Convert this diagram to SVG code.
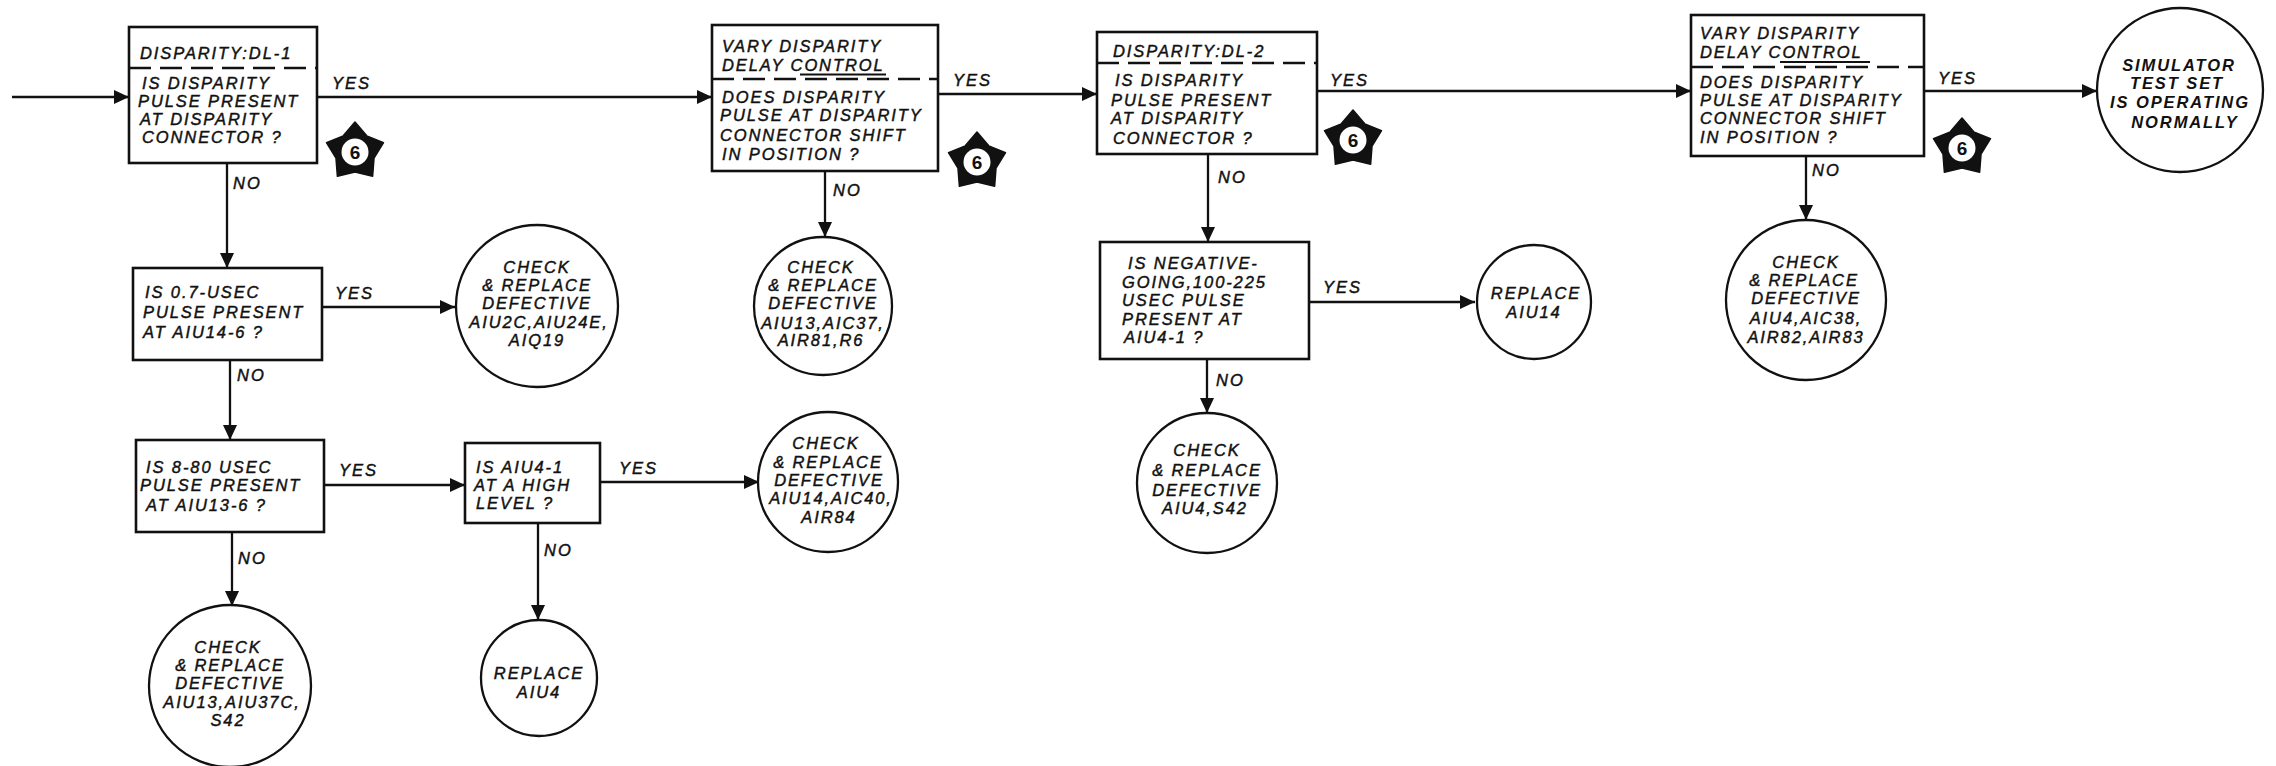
<svg xmlns="http://www.w3.org/2000/svg" xmlns:xlink="http://www.w3.org/1999/xlink" width="2276" height="766" viewBox="0 0 2276 766">
<style>
  .bx { fill: #fff; stroke: #111; stroke-width: 2.6; }
  .cl { fill: #fff; stroke: #111; stroke-width: 2.3; }
  .dash { stroke: #111; stroke-width: 2.6; stroke-dasharray: 22 9; fill: none; }
  .t { font-family: "Liberation Sans", Arial, sans-serif; font-style: italic; font-size: 16.5px; letter-spacing: 1.9px; fill: #111; stroke: #111; stroke-width: 0.45; }
  .c { text-anchor: middle; }
  .lbl { font-family: "Liberation Sans", Arial, sans-serif; font-style: italic; font-size: 16.5px; letter-spacing: 2px; fill: #111; stroke: #111; stroke-width: 0.45; }
  .b { font-weight: bold; stroke-width: 0; }
  .ln { stroke: #111; stroke-width: 2.3; fill: none; marker-end: url(#ah); }
  .six { font-family: "Liberation Sans", Arial, sans-serif; font-weight: bold; font-size: 19px; text-anchor: middle; fill: #111; }
</style>
<defs>
  <marker id="ah" markerUnits="userSpaceOnUse" markerWidth="16" markerHeight="14" refX="15" refY="7" orient="auto">
    <path d="M0,0 L15,7 L0,14 z" fill="#111"/>
  </marker>
  <g id="star">
    <path d="M0,-30 L11.76,-16.18 L28.53,-9.27 L19.02,6.18 L17.63,24.27 L0,20 L-17.63,24.27 L-19.02,6.18 L-28.53,-9.27 L-11.76,-16.18 Z" fill="#111" stroke="#111" stroke-width="1.5" stroke-linejoin="round"/>
    <circle r="13.5" fill="#fff"/>
    <text class="six" y="7">6</text>
  </g>
</defs>
<rect width="2276" height="766" fill="#fff"/>

<g id="connectors">
  <line class="ln" x1="12" y1="97" x2="129" y2="97"/>
  <line class="ln" x1="317" y1="97" x2="712" y2="97"/>
  <line class="ln" x1="938" y1="94" x2="1097" y2="94"/>
  <line class="ln" x1="1317" y1="91" x2="1691" y2="91"/>
  <line class="ln" x1="1924" y1="91" x2="2097" y2="91"/>
  <line class="ln" x1="227" y1="163" x2="227" y2="268"/>
  <line class="ln" x1="322" y1="307" x2="455" y2="307"/>
  <line class="ln" x1="230" y1="360" x2="230" y2="440"/>
  <line class="ln" x1="324" y1="485" x2="465" y2="485"/>
  <line class="ln" x1="232" y1="532" x2="232" y2="606"/>
  <line class="ln" x1="600" y1="482" x2="759" y2="482"/>
  <line class="ln" x1="538" y1="523" x2="538" y2="620"/>
  <line class="ln" x1="825" y1="171" x2="825" y2="237"/>
  <line class="ln" x1="1208" y1="154" x2="1208" y2="242"/>
  <line class="ln" x1="1309" y1="302" x2="1475" y2="302"/>
  <line class="ln" x1="1207" y1="359" x2="1207" y2="413"/>
  <line class="ln" x1="1806" y1="156" x2="1806" y2="220"/>
  <g class="lbl">
    <text x="332" y="89">YES</text>
    <text x="953" y="86">YES</text>
    <text x="1330" y="86">YES</text>
    <text x="1938" y="84">YES</text>
    <text x="335" y="299">YES</text>
    <text x="339" y="476">YES</text>
    <text x="619" y="474">YES</text>
    <text x="1323" y="293">YES</text>
    <text x="233" y="189">NO</text>
    <text x="237" y="381">NO</text>
    <text x="238" y="564">NO</text>
    <text x="544" y="556">NO</text>
    <text x="833" y="196">NO</text>
    <text x="1218" y="183">NO</text>
    <text x="1216" y="386">NO</text>
    <text x="1812" y="176">NO</text>
  </g>
</g>

<g id="dl1">
  <rect class="bx" x="129" y="27" width="188" height="136"/>
  <line class="dash" x1="129" y1="68" x2="317" y2="68"/>
  <g class="t">
    <text x="140" y="59">DISPARITY:DL-1</text>
    <text x="142" y="89">IS DISPARITY</text>
    <text x="138" y="107">PULSE PRESENT</text>
    <text x="140" y="125">AT DISPARITY</text>
    <text x="142" y="143">CONNECTOR ?</text>
  </g>
</g>
<g id="star1"><use xlink:href="#star" href="#star" x="355" y="152"/></g>

<g id="q07">
  <rect class="bx" x="133" y="268" width="189" height="92"/>
  <g class="t">
    <text x="145" y="298">IS 0.7-USEC</text>
    <text x="143" y="318">PULSE PRESENT</text>
    <text x="143" y="338">AT AIU14-6 ?</text>
  </g>
</g>

<g id="r1">
  <circle class="cl" cx="537" cy="306" r="81"/>
  <g class="t c">
    <text x="537" y="273">CHECK</text>
    <text x="537" y="291">&amp; REPLACE</text>
    <text x="537" y="309">DEFECTIVE</text>
    <text x="539" y="328">AIU2C,AIU24E,</text>
    <text x="537" y="346">AIQ19</text>
  </g>
</g>

<g id="q880">
  <rect class="bx" x="136" y="440" width="188" height="92"/>
  <g class="t">
    <text x="146" y="473">IS 8-80 USEC</text>
    <text x="140" y="491">PULSE PRESENT</text>
    <text x="146" y="511">AT AIU13-6 ?</text>
  </g>
</g>

<g id="r2">
  <circle class="cl" cx="230" cy="686" r="81"/>
  <g class="t c">
    <text x="228" y="653">CHECK</text>
    <text x="230" y="671">&amp; REPLACE</text>
    <text x="230" y="689">DEFECTIVE</text>
    <text x="232" y="708">AIU13,AIU37C,</text>
    <text x="228" y="726">S42</text>
  </g>
</g>

<g id="qhigh">
  <rect class="bx" x="465" y="443" width="135" height="80"/>
  <g class="t">
    <text x="476" y="473">IS AIU4-1</text>
    <text x="474" y="491">AT A HIGH</text>
    <text x="476" y="509">LEVEL ?</text>
  </g>
</g>

<g id="r3">
  <circle class="cl" cx="539" cy="678" r="58"/>
  <g class="t c">
    <text x="539" y="679">REPLACE</text>
    <text x="539" y="698">AIU4</text>
  </g>
</g>

<g id="r4">
  <circle class="cl" cx="828" cy="482" r="70"/>
  <g class="t c">
    <text x="826" y="449">CHECK</text>
    <text x="828" y="468">&amp; REPLACE</text>
    <text x="829" y="486">DEFECTIVE</text>
    <text x="831" y="504">AIU14,AIC40,</text>
    <text x="829" y="523">AIR84</text>
  </g>
</g>

<g id="vary1">
  <rect class="bx" x="712" y="25" width="226" height="146"/>
  <line class="dash" x1="712" y1="79" x2="938" y2="79"/>
  <line stroke="#111" stroke-width="2" x1="800" y1="74.5" x2="886" y2="74.5"/>
  <g class="t">
    <text x="722" y="52">VARY DISPARITY</text>
    <text x="722" y="71">DELAY CONTROL</text>
    <text x="722" y="103">DOES DISPARITY</text>
    <text x="720" y="121">PULSE AT DISPARITY</text>
    <text x="720" y="141">CONNECTOR SHIFT</text>
    <text x="722" y="160">IN POSITION ?</text>
  </g>
</g>
<g id="star2"><use xlink:href="#star" href="#star" x="977" y="162"/></g>

<g id="r5">
  <circle class="cl" cx="823" cy="306" r="69"/>
  <g class="t c">
    <text x="821" y="273">CHECK</text>
    <text x="823" y="291">&amp; REPLACE</text>
    <text x="823" y="309">DEFECTIVE</text>
    <text x="823" y="329">AIU13,AIC37,</text>
    <text x="821" y="346">AIR81,R6</text>
  </g>
</g>

<g id="dl2">
  <rect class="bx" x="1097" y="32" width="220" height="122"/>
  <line class="dash" x1="1097" y1="63" x2="1317" y2="63"/>
  <g class="t">
    <text x="1113" y="57">DISPARITY:DL-2</text>
    <text x="1115" y="86">IS  DISPARITY</text>
    <text x="1111" y="106">PULSE  PRESENT</text>
    <text x="1111" y="124">AT DISPARITY</text>
    <text x="1113" y="144">CONNECTOR ?</text>
  </g>
</g>
<g id="star3"><use xlink:href="#star" href="#star" x="1353" y="140"/></g>

<g id="qneg">
  <rect class="bx" x="1100" y="242" width="209" height="117"/>
  <g class="t">
    <text x="1128" y="269">IS NEGATIVE-</text>
    <text x="1122" y="288">GOING,100-225</text>
    <text x="1122" y="306">USEC PULSE</text>
    <text x="1122" y="325">PRESENT AT</text>
    <text x="1124" y="343">AIU4-1 ?</text>
  </g>
</g>

<g id="r6">
  <circle class="cl" cx="1534" cy="302" r="57"/>
  <g class="t c">
    <text x="1536" y="299">REPLACE</text>
    <text x="1534" y="318">AIU14</text>
  </g>
</g>

<g id="r7">
  <circle class="cl" cx="1207" cy="483" r="70"/>
  <g class="t c">
    <text x="1207" y="456">CHECK</text>
    <text x="1207" y="476">&amp; REPLACE</text>
    <text x="1207" y="496">DEFECTIVE</text>
    <text x="1205" y="514">AIU4,S42</text>
  </g>
</g>

<g id="vary2">
  <rect class="bx" x="1691" y="15" width="233" height="141"/>
  <line class="dash" x1="1691" y1="67" x2="1924" y2="67"/>
  <line stroke="#111" stroke-width="2" x1="1780" y1="62" x2="1870" y2="62"/>
  <g class="t">
    <text x="1700" y="39">VARY DISPARITY</text>
    <text x="1700" y="58">DELAY CONTROL</text>
    <text x="1700" y="88">DOES DISPARITY</text>
    <text x="1700" y="106">PULSE  AT DISPARITY</text>
    <text x="1700" y="124">CONNECTOR SHIFT</text>
    <text x="1700" y="143">IN POSITION ?</text>
  </g>
</g>
<g id="star4"><use xlink:href="#star" href="#star" x="1962" y="148"/></g>

<g id="r8">
  <circle class="cl" cx="1806" cy="300" r="80"/>
  <g class="t c">
    <text x="1806" y="268">CHECK</text>
    <text x="1804" y="286">&amp; REPLACE</text>
    <text x="1806" y="304">DEFECTIVE</text>
    <text x="1806" y="324">AIU4,AIC38,</text>
    <text x="1806" y="343">AIR82,AIR83</text>
  </g>
</g>

<g id="ok">
  <ellipse class="cl" cx="2180" cy="90" rx="83" ry="82"/>
  <g class="t c b">
    <text x="2179" y="71">SIMULATOR</text>
    <text x="2177" y="89">TEST SET</text>
    <text x="2180" y="108">IS OPERATING</text>
    <text x="2185" y="128">NORMALLY</text>
  </g>
</g>
</svg>
